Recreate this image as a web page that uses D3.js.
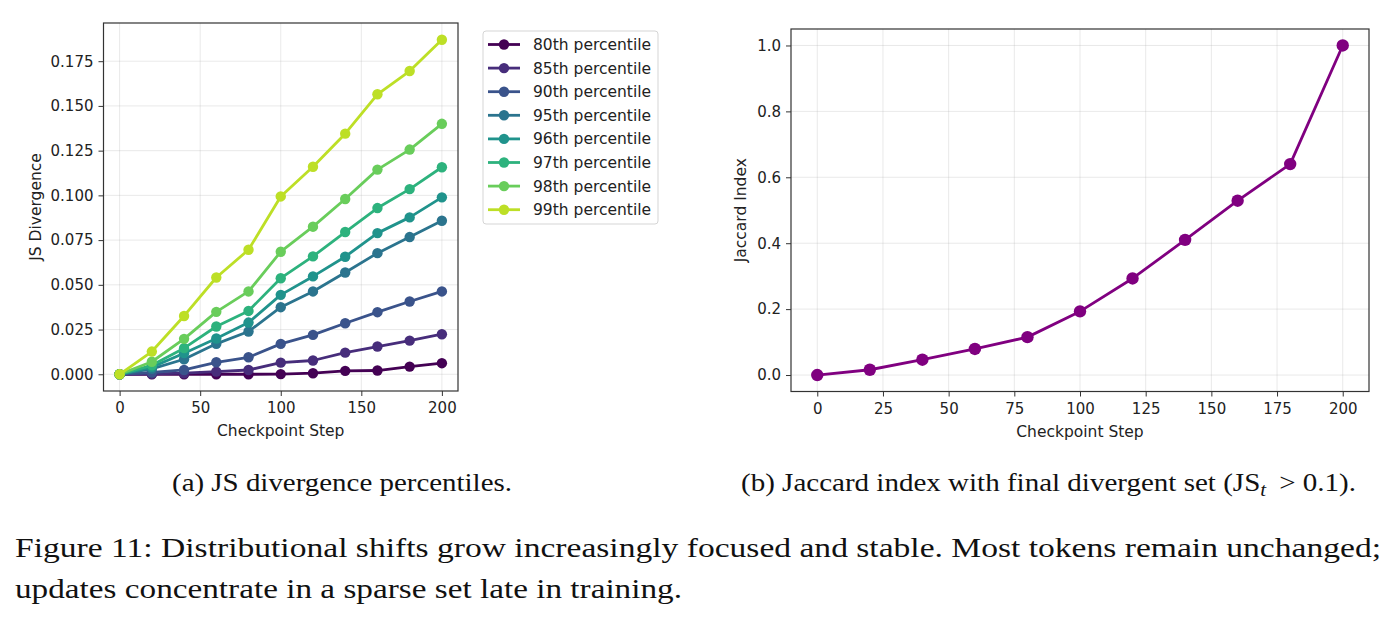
<!DOCTYPE html>
<html>
<head>
<meta charset="utf-8">
<script src="https://cdn.jsdelivr.net/npm/d3@7"></script>
<style>
  body { margin: 0; background: #fff; }
  svg { display: block; }
  .tick text { font-family: "DejaVu Sans", sans-serif; font-size: 15px; fill: #222; }
  .tick line { stroke: #333; }
</style>
</head>
<body>
<div id="chart"></div>
<script>
// Data
const steps = [0, 20, 40, 60, 80, 100, 120, 140, 160, 180, 200];
const percentiles = ["80th percentile", "85th percentile", "90th percentile", "95th percentile",
  "96th percentile", "97th percentile", "98th percentile", "99th percentile"];
const js80 = [0, 0, 0, 0, 0, 0.0001, 0.0006, 0.0019, 0.0021, 0.0043, 0.0062];
const js85 = [0, 0.0002, 0.0006, 0.0015, 0.0024, 0.0065, 0.0077, 0.0121, 0.0155, 0.0188, 0.0224];
const js90 = [0, 0.0010, 0.0024, 0.0067, 0.0095, 0.0170, 0.0220, 0.0285, 0.0347, 0.0407, 0.0463];
const js95 = [0, 0.0030, 0.0084, 0.0170, 0.0239, 0.0375, 0.0463, 0.0569, 0.0677, 0.0767, 0.0858];
const js96 = [0, 0.0040, 0.0118, 0.0200, 0.0289, 0.0444, 0.0547, 0.0657, 0.0789, 0.0877, 0.0989];
const js97 = [0, 0.0050, 0.0146, 0.0267, 0.0354, 0.0537, 0.0659, 0.0795, 0.0929, 0.1035, 0.1157];
const js98 = [0, 0.0070, 0.0198, 0.0349, 0.0463, 0.0685, 0.0825, 0.0980, 0.1144, 0.1256, 0.1400];
const js99 = [0, 0.0127, 0.0326, 0.0541, 0.0696, 0.0994, 0.1160, 0.1345, 0.1565, 0.1695, 0.1870];
const jsSeries = [js80, js85, js90, js95, js96, js97, js98, js99];
const jaccard = [0, 0.016, 0.0465, 0.079, 0.115, 0.193, 0.293, 0.410, 0.529, 0.640, 1.0];

const jsTicks = [0, 0.025, 0.05, 0.075, 0.1, 0.125, 0.15, 0.175];
const jsStepTicks = [0, 50, 100, 150, 200];
const jacTicks = [0, 0.2, 0.4, 0.6, 0.8, 1.0];
const jacStepTicks = [0, 25, 50, 75, 100, 125, 150, 175, 200];

const W = 1395, H = 623;
const svg = d3.select("#chart").append("svg").attr("width", W).attr("height", H);

const sans = "DejaVu Sans, sans-serif";
const serif = "Liberation Serif, serif";

// viridis sampled from 0 to 0.9
const colors = percentiles.map((p, i) => d3.interpolateViridis(i / 7 * 0.9));

function drawPanel(opt) {
  const x = d3.scaleLinear().domain([-10, 210]).range([opt.left, opt.right]);
  const y = d3.scaleLinear().domain(opt.yDomain).range([opt.bottom, opt.top]);
  const g = svg.append("g");

  // grid
  g.append("g").selectAll("line").data(opt.xTicks).enter().append("line")
    .attr("x1", d => x(d)).attr("x2", d => x(d))
    .attr("y1", opt.top).attr("y2", opt.bottom)
    .attr("stroke", "#b0b0b0").attr("stroke-opacity", 0.35).attr("stroke-width", 0.8);
  g.append("g").selectAll("line").data(opt.yTicks).enter().append("line")
    .attr("x1", opt.left).attr("x2", opt.right)
    .attr("y1", d => y(d)).attr("y2", d => y(d))
    .attr("stroke", "#b0b0b0").attr("stroke-opacity", 0.35).attr("stroke-width", 0.8);

  // axes
  const xAxis = g.append("g").attr("transform", `translate(0,${opt.bottom})`)
    .call(d3.axisBottom(x).tickValues(opt.xTicks).tickSize(5).tickPadding(5).tickFormat(d3.format("d")));
  const yAxis = g.append("g").attr("transform", `translate(${opt.left},0)`)
    .call(d3.axisLeft(y).tickValues(opt.yTicks).tickSize(5).tickPadding(5).tickFormat(d3.format(opt.yFormat)));
  xAxis.select(".domain").remove();
  yAxis.select(".domain").remove();
  xAxis.selectAll(".tick text").attr("dy", "0.8em");

  // spines
  g.append("rect")
    .attr("x", opt.left).attr("y", opt.top)
    .attr("width", opt.right - opt.left).attr("height", opt.bottom - opt.top)
    .attr("fill", "none").attr("stroke", "#333").attr("stroke-width", 1.2);

  // axis labels
  g.append("text")
    .attr("x", (opt.left + opt.right) / 2).attr("y", opt.bottom + 45)
    .attr("text-anchor", "middle").style("font-family", sans).style("font-size", "15.5px")
    .attr("fill", "#222").text("Checkpoint Step");
  g.append("text")
    .attr("transform", `translate(${opt.yLabelX},${(opt.top + opt.bottom) / 2}) rotate(-90)`)
    .attr("text-anchor", "middle").style("font-family", sans).style("font-size", "15.5px")
    .attr("fill", "#222").text(opt.yLabel);

  const line = d3.line().x((d, i) => x(steps[i])).y(d => y(d));
  opt.series.forEach((s, k) => {
    g.append("path").datum(s)
      .attr("fill", "none").attr("stroke", opt.colors[k])
      .attr("stroke-width", opt.lineWidth).attr("stroke-linejoin", "round")
      .attr("d", line);
    g.append("g").selectAll("circle").data(s).enter().append("circle")
      .attr("cx", (d, i) => x(steps[i])).attr("cy", d => y(d))
      .attr("r", opt.radius).attr("fill", opt.colors[k]);
  });
}

// (a) JS divergence percentiles
drawPanel({
  left: 103.5, right: 458, top: 23, bottom: 391,
  yDomain: [-0.00935, 0.19635],
  xTicks: jsStepTicks, yTicks: jsTicks, yFormat: ".3f",
  yLabel: "JS Divergence", yLabelX: 41,
  series: jsSeries, colors: colors, lineWidth: 2.8, radius: 5.2
});

// (b) Jaccard index
drawPanel({
  left: 791, right: 1369, top: 29, bottom: 391.5,
  yDomain: [-0.05, 1.05],
  xTicks: jacStepTicks, yTicks: jacTicks, yFormat: ".1f",
  yLabel: "Jaccard Index", yLabelX: 746,
  series: [jaccard], colors: ["#800080"], lineWidth: 2.8, radius: 6.2
});

// legend
const legend = svg.append("g").attr("transform", "translate(483,31)");
legend.append("rect").attr("width", 175).attr("height", 193).attr("rx", 3)
  .attr("fill", "#fff").attr("stroke", "#d5d5d5").attr("stroke-width", 1);
percentiles.forEach((p, i) => {
  const cy = 13.5 + i * 23.6;
  legend.append("line").attr("x1", 5).attr("x2", 37).attr("y1", cy).attr("y2", cy)
    .attr("stroke", colors[i]).attr("stroke-width", 2.8);
  legend.append("circle").attr("cx", 21).attr("cy", cy).attr("r", 5.2).attr("fill", colors[i]);
  legend.append("text").attr("x", 50).attr("y", cy).attr("dy", "0.35em")
    .style("font-family", sans).style("font-size", "15.5px").attr("fill", "#222").text(p);
});

// captions
svg.append("text").attr("x", 172).attr("y", 491)
  .attr("textLength", 340).attr("lengthAdjust", "spacingAndGlyphs")
  .style("font-family", serif).style("font-size", "25px").attr("fill", "#111")
  .text("(a) JS divergence percentiles.");

const capB = svg.append("text").attr("x", 741).attr("y", 491)
  .attr("textLength", 615).attr("lengthAdjust", "spacingAndGlyphs")
  .style("font-family", serif).style("font-size", "25px").attr("fill", "#111");
capB.append("tspan").text("(b) Jaccard index with final divergent set (JS");
capB.append("tspan").attr("dy", 5).style("font-size", "18px").style("font-style", "italic").text("t");
capB.append("tspan").attr("dy", -5).text(" \u2009> 0.1).");

svg.append("text").attr("x", 15).attr("y", 557)
  .attr("textLength", 1366).attr("lengthAdjust", "spacingAndGlyphs")
  .style("font-family", serif).style("font-size", "27px").attr("fill", "#111")
  .text("Figure 11: Distributional shifts grow increasingly focused and stable. Most tokens remain unchanged;");
svg.append("text").attr("x", 15).attr("y", 598)
  .attr("textLength", 667).attr("lengthAdjust", "spacingAndGlyphs")
  .style("font-family", serif).style("font-size", "27px").attr("fill", "#111")
  .text("updates concentrate in a sparse set late in training.");
</script>
</body>
</html>
